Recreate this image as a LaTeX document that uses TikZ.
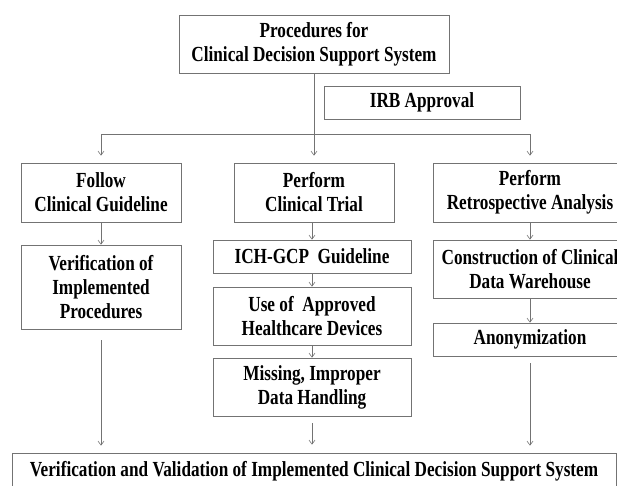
\documentclass[tikz,border=0pt]{standalone}
\usepackage{fontspec}
\setmainfont[FakeStretch=0.8]{Liberation Serif}
\usepackage{tikz}
\usetikzlibrary{arrows.meta,calc}

\begin{document}
\begin{tikzpicture}[x=1pt,y=-1pt,
		box/.style={draw=black!55,line width=0.8pt,fill=white,align=center,font=\fontsize{21.5}{24}\selectfont\bfseries,inner sep=0pt},
		arr/.style={black!55,line width=0.6pt,-{Straight Barb[length=4pt,width=6pt]}}]
			\useasboundingbox (0,0) rectangle (617,485);
			\coordinate (T) at (314,44);
			\coordinate (S) at (314,134);
			\node[box,minimum width=270,minimum height=58] (top) at (T) {Procedures for\\Clinical Decision Support System};
			\node[box,minimum width=196,minimum height=33] (irb) at (422,102.5) {IRB Approval};
			\node[box,minimum width=160,minimum height=59] (follow) at (101,192.5) {Follow\\Clinical Guideline};
			\node[box,minimum width=160,minimum height=59] (trial) at (314,192.5) {Perform\\Clinical Trial};
			\node[box,minimum width=194,minimum height=59] (retro) at (530,192.5) {Perform\\Retrospective Analysis};
			\node[box,minimum width=160,minimum height=84] (verif) at (101,287) {Verification of\\Implemented\\Procedures};
			\node[box,minimum width=198,minimum height=33] (ich) at (312,256.5) {ICH-GCP\ \ Guideline};
			\node[box,minimum width=198,minimum height=58] (use) at (312,316) {Use of\ \ Approved\\Healthcare Devices};
			\node[box,minimum width=198,minimum height=58] (miss) at (312,387) {Missing, Improper\\Data Handling};
			\node[box,minimum width=194,minimum height=58] (constr) at (530,269) {Construction of Clinical\\Data Warehouse};
			\node[box,minimum width=194,minimum height=33] (anon) at (530,339.5) {Anonymization};
			\node[box,minimum width=604,minimum height=36] (bottom) at (314,471) {Verification and Validation of Implemented Clinical Decision Support System};
			\draw[arr,shorten >=7pt] (top.south) -- (top.south |- trial.north);
			\draw[arr,shorten >=7pt] (S) -| (follow.north);
			\draw[arr,shorten >=7pt] (S) -| (retro.north);
			\draw[arr] (follow) -- (verif);
			\draw[arr] (trial.south -| ich.north) -- (ich.north);
			\draw[arr] (ich) -- (use);
			\draw[arr] (use) -- (miss);
			\draw[arr] (retro) -- (constr);
			\draw[arr] (constr) -- (anon);
			\draw[arr,shorten <=11pt,shorten >=7pt] (verif.south) -- (verif.south |- bottom.north);
			\draw[arr,shorten <=7pt,shorten >=8pt] (miss.south) -- (miss.south |- bottom.north);
			\draw[arr,shorten <=7pt,shorten >=7pt] (anon.south) -- (anon.south |- bottom.north);
		\end{tikzpicture}
\end{document}
